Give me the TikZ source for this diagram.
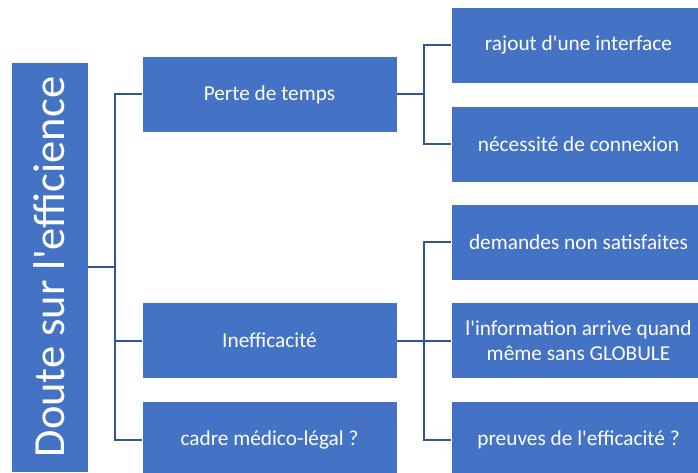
\documentclass[tikz,border=0pt]{standalone}
\usepackage{fontspec}
\setmainfont{Carlito}[Ligatures=TeXOff]
\definecolor{boxblue}{HTML}{4472C4}
\definecolor{linkblue}{HTML}{2F5597}
\begin{document}
\begin{tikzpicture}[x=1pt,y=-1pt,
  leaf/.style={rectangle,fill=boxblue,draw=white,line width=0.8pt,text=white,
    minimum width=255pt,minimum height=76pt,inner sep=2pt,align=center,
    font=\fontsize{21.3}{25}\selectfont},
  rootbox/.style={rectangle,fill=boxblue,draw=white,line width=0.8pt,text=white,
    minimum width=410pt,minimum height=77pt,inner sep=2pt,rotate=90,
    font=\fontsize{44.5}{50}\selectfont},
  link/.style={draw=linkblue,line width=2pt}]
\clip (0,0) rectangle (698,473);
\fill[white] (0,0) rectangle (698,473);
\node[rootbox] (root) at (49.5,267) {Doute sur l'efficience};
\node[leaf] (perte) at (269.5,94.5) {Perte de temps};
\node[leaf] (ineff) at (269.5,340.5) {Inefficacité};
\node[leaf] (cadre) at (269.5,439.5) {cadre médico-légal ?};
\node[leaf] (r1) at (578.5,45) {rajout d'une interface};
\node[leaf] (r2) at (578.5,144) {nécessité de connexion};
\node[leaf] (r3) at (578.5,242) {demandes non satisfaites};
\node[leaf] (r4) at (578.5,340.5) {l'information arrive quand\\même sans GLOBULE};
\node[leaf] (r5) at (578.5,439.5) {preuves de l'efficacité ?};
\coordinate (j0) at (115,267);
\coordinate (j1) at (424,94.5);
\coordinate (j2) at (424,340.5);
\draw[link] (root.south) -- (j0);
\draw[link] (j0) |- (perte.west);
\draw[link] (j0) |- (ineff.west);
\draw[link] (j0) |- (cadre.west);
\draw[link] (perte.east) -- (j1);
\draw[link] (j1) |- (r1.west);
\draw[link] (j1) |- (r2.west);
\draw[link] (ineff.east) -- (j2);
\draw[link] (j2) |- (r3.west);
\draw[link] (j2) |- (r4.west);
\draw[link] (j2) |- (r5.west);
\end{tikzpicture}
\end{document}
